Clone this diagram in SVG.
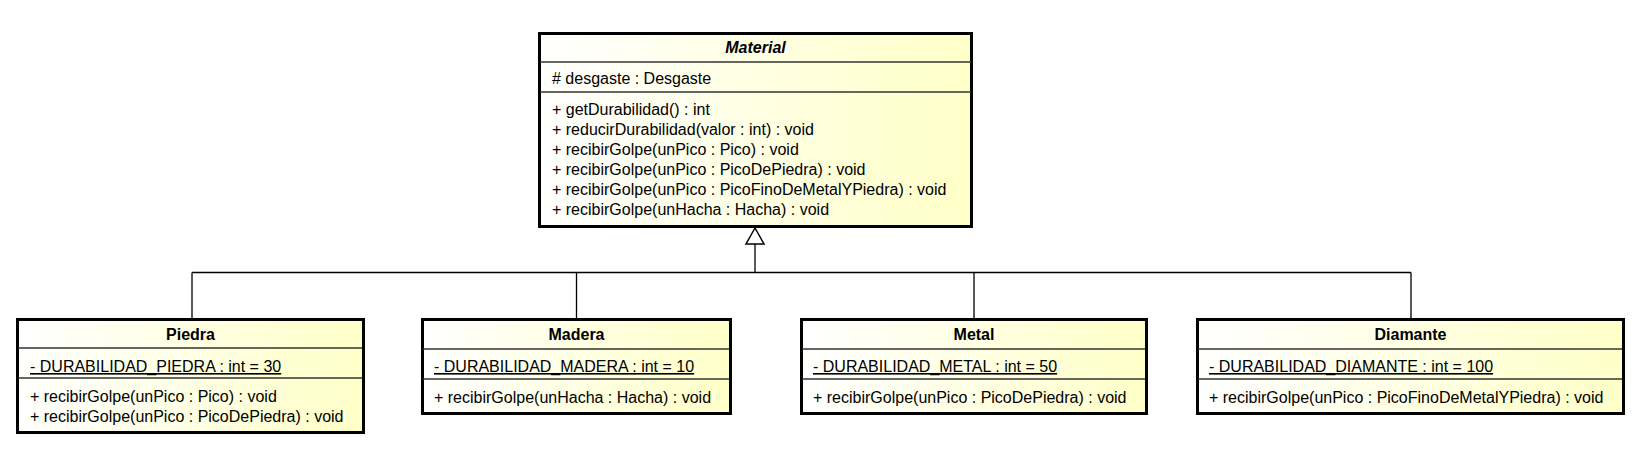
<svg xmlns="http://www.w3.org/2000/svg" width="1640" height="472" viewBox="0 0 1640 472">
<defs>
<linearGradient id="g" x1="0" y1="0" x2="1" y2="0">
<stop offset="0" stop-color="#ffffff"/>
<stop offset="1" stop-color="#ffffc8"/>
</linearGradient>
<style>
.box{fill:url(#g);stroke:#000;stroke-width:3}
.sep{stroke:#333;stroke-width:1.5}
text{font-family:"Liberation Sans",Arial,sans-serif;font-size:16px;fill:#000}
.t{font-weight:bold;text-anchor:middle}
.ti{font-weight:bold;font-style:italic;text-anchor:middle}
.u{text-decoration:underline}
.c{fill:none;stroke:#000;stroke-width:1.3}
</style>
</defs>
<rect width="1640" height="472" fill="#fff"/>
<g id="connectors">
<path class="c" d="M192 272.5 H1411 M192 272.5 V318 M576.5 272.5 V318 M974 272.5 V318 M1411 272.5 V318"/>
<path class="c" d="M755 244 V272" stroke-width="1.6"/>
<polygon points="755,228 746,244 764,244" fill="#fff" stroke="#000" stroke-width="1.5"/>
</g>
<g id="Material">
<rect class="box" x="539.5" y="33.5" width="432" height="193"/>
<line class="sep" x1="540" y1="62" x2="971" y2="62"/>
<line class="sep" x1="540" y1="92" x2="971" y2="92"/>
<text class="ti" x="755.5" y="53">Material</text>
<text x="552" y="84"># desgaste : Desgaste</text>
<text x="552" y="115">+ getDurabilidad() : int</text>
<text x="552" y="135">+ reducirDurabilidad(valor : int) : void</text>
<text x="552" y="155">+ recibirGolpe(unPico : Pico) : void</text>
<text x="552" y="175">+ recibirGolpe(unPico : PicoDePiedra) : void</text>
<text x="552" y="195">+ recibirGolpe(unPico : PicoFinoDeMetalYPiedra) : void</text>
<text x="552" y="215">+ recibirGolpe(unHacha : Hacha) : void</text>
</g>
<g id="Piedra">
<rect class="box" x="17.5" y="319.5" width="346" height="113"/>
<line class="sep" x1="18" y1="348" x2="362" y2="348"/>
<line class="sep" x1="18" y1="378" x2="362" y2="378"/>
<text class="t" x="190.5" y="340">Piedra</text>
<text class="u" x="30" y="372">- DURABILIDAD_PIEDRA : int = 30</text>
<text x="30" y="402">+ recibirGolpe(unPico : Pico) : void</text>
<text x="30" y="422">+ recibirGolpe(unPico : PicoDePiedra) : void</text>
</g>
<g id="Madera">
<rect class="box" x="422.5" y="319.5" width="308" height="94"/>
<line class="sep" x1="423" y1="349" x2="729" y2="349"/>
<line class="sep" x1="423" y1="379" x2="729" y2="379"/>
<text class="t" x="576.5" y="340">Madera</text>
<text class="u" x="434" y="372">- DURABILIDAD_MADERA : int = 10</text>
<text x="434" y="403">+ recibirGolpe(unHacha : Hacha) : void</text>
</g>
<g id="Metal">
<rect class="box" x="801.5" y="319.5" width="345" height="94"/>
<line class="sep" x1="802" y1="349" x2="1145" y2="349"/>
<line class="sep" x1="802" y1="379" x2="1145" y2="379"/>
<text class="t" x="974" y="340">Metal</text>
<text class="u" x="813" y="372">- DURABILIDAD_METAL : int = 50</text>
<text x="813" y="403">+ recibirGolpe(unPico : PicoDePiedra) : void</text>
</g>
<g id="Diamante">
<rect class="box" x="1197.5" y="319.5" width="426" height="94"/>
<line class="sep" x1="1198" y1="349" x2="1622" y2="349"/>
<line class="sep" x1="1198" y1="379" x2="1622" y2="379"/>
<text class="t" x="1410.5" y="340">Diamante</text>
<text class="u" x="1209" y="372">- DURABILIDAD_DIAMANTE : int = 100</text>
<text x="1209" y="403">+ recibirGolpe(unPico : PicoFinoDeMetalYPiedra) : void</text>
</g>
</svg>
